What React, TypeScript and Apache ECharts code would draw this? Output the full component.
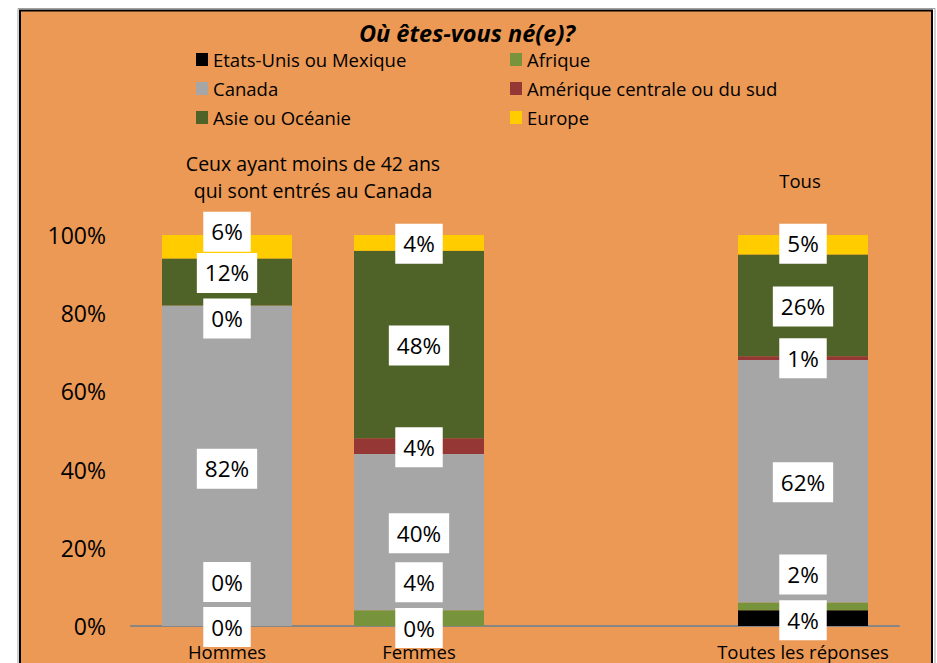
import React, { useEffect, useRef } from "react";
import * as echarts from "echarts";

const categories = ["Hommes", "Femmes", "", "Toutes les réponses"];
const seriesNames = [
  "Etats-Unis ou Mexique",
  "Afrique",
  "Canada",
  "Amérique centrale ou du sud",
  "Asie ou Océanie",
  "Europe",
];
const usaMexique = [0, 0, "-", 4];
const afrique = [0, 4, "-", 2];
const canada = [82, 40, "-", 62];
const ameriqueSud = [0, 4, "-", 1];
const asieOceanie = [12, 48, "-", 26];
const europe = [6, 4, "-", 5];
const yTicks = [0, 20, 40, 60, 80, 100];

const seriesValues = [usaMexique, afrique, canada, ameriqueSud, asieOceanie, europe];
const colors = ["#000000", "#77933C", "#A6A6A6", "#953735", "#4F6228", "#FFCC00"];
// vertical label shifts (px) as moved by hand in the original
const labelShift = [
  [1, 2, 0, 2],
  [-44, -36, 0, -32],
  [3, 1, 0, 1],
  [13, 1, 0, 0],
  [-9, 1, 0, 1],
  [-15, 1, 0, -1],
];

const FONT = "'Open Sans', sans-serif";
const ORANGE = "#EB9954";

export default function App() {
  const ref = useRef<HTMLDivElement>(null);
  useEffect(() => {
    if (!ref.current) return;
    const chart = echarts.init(ref.current, null, { renderer: "svg" });
    const series = seriesNames.map((name, si) => ({
      name,
      type: "bar",
      stack: "total",
      barWidth: 130,
      itemStyle: { color: colors[si] },
      data: seriesValues[si].map((v, ci) =>
        v === "-"
          ? "-"
          : {
              value: v,
              label: { offset: [0, labelShift[si][ci]] },
            }
      ),
      label: {
        show: true,
        position: "inside",
        formatter: "{c}%",
        color: "#000",
        fontFamily: FONT,
        fontSize: 22.5,
        lineHeight: 24,
        backgroundColor: "#FFFFFF",
        padding: [8, 8],
      },
    }));
    const legendCommon = {
      orient: "vertical",
      icon: "rect",
      itemWidth: 12,
      itemHeight: 13,
      itemGap: 10,
      top: 50,
      padding: 0,
      textStyle: { color: "#000", fontFamily: FONT, fontSize: 18.5, lineHeight: 17 },
      selectedMode: false,
    };
    chart.setOption({
      animation: false,
      backgroundColor: "#FFFFFF",
      color: colors,
      title: {
        text: "Où êtes-vous né(e)?",
        left: 462,
        top: 16,
        textAlign: "center",
        textStyle: {
          fontFamily: FONT,
          fontSize: 23.5,
          fontStyle: "italic",
          fontWeight: "bold",
          color: "#000",
        },
      },
      legend: [
        { ...legendCommon, left: 196, data: [seriesNames[0], seriesNames[2], seriesNames[4]] },
        { ...legendCommon, left: 510, data: [seriesNames[1], seriesNames[3], seriesNames[5]] },
      ],
      graphic: [
        {
          type: "rect",
          z: -10,
          shape: { x: 18, y: 8.5, width: 917, height: 720 },
          style: { fill: "none", stroke: "#A0A0A0", lineWidth: 1 },
        },
        {
          type: "rect",
          z: -9,
          shape: { x: 20, y: 10.5, width: 912, height: 720 },
          style: { fill: ORANGE, stroke: "#000", lineWidth: 2 },
        },
        {
          type: "text",
          z: 10,
          style: {
            x: 313,
            y: 176.5,
            text: "Ceux ayant moins de 42 ans\nqui sont entrés au Canada",
            align: "center",
            verticalAlign: "middle",
            fontFamily: FONT,
            fontSize: 19.5,
            lineHeight: 27,
            fill: "#000",
          },
        },
        {
          type: "text",
          z: 10,
          style: {
            x: 800,
            y: 180,
            text: "Tous",
            align: "center",
            verticalAlign: "middle",
            fontFamily: FONT,
            fontSize: 18.5,
            fill: "#000",
          },
        },
      ],
      grid: { left: 131, right: 38, top: 235, bottom: 37 },
      xAxis: {
        type: "category",
        data: categories,
        axisLine: { show: true, lineStyle: { color: "#868686", width: 2 } },
        axisTick: { show: false },
        axisLabel: {
          color: "#000",
          fontFamily: FONT,
          fontSize: 18.5,
          margin: 16,
          interval: 0,
        },
      },
      yAxis: {
        type: "value",
        min: yTicks[0],
        max: yTicks[yTicks.length - 1],
        interval: yTicks[1] - yTicks[0],
        axisLine: { show: false },
        axisTick: { show: false },
        splitLine: { show: false },
        axisLabel: {
          formatter: "{value}%",
          color: "#000",
          fontFamily: FONT,
          fontSize: 23,
          margin: 25,
        },
      },
      series,
    });
    return () => chart.dispose();
  }, []);
  return (
    <div
      ref={ref}
      style={{ position: "absolute", left: 0, top: 0, width: 937, height: 663 }}
    />
  );
}
